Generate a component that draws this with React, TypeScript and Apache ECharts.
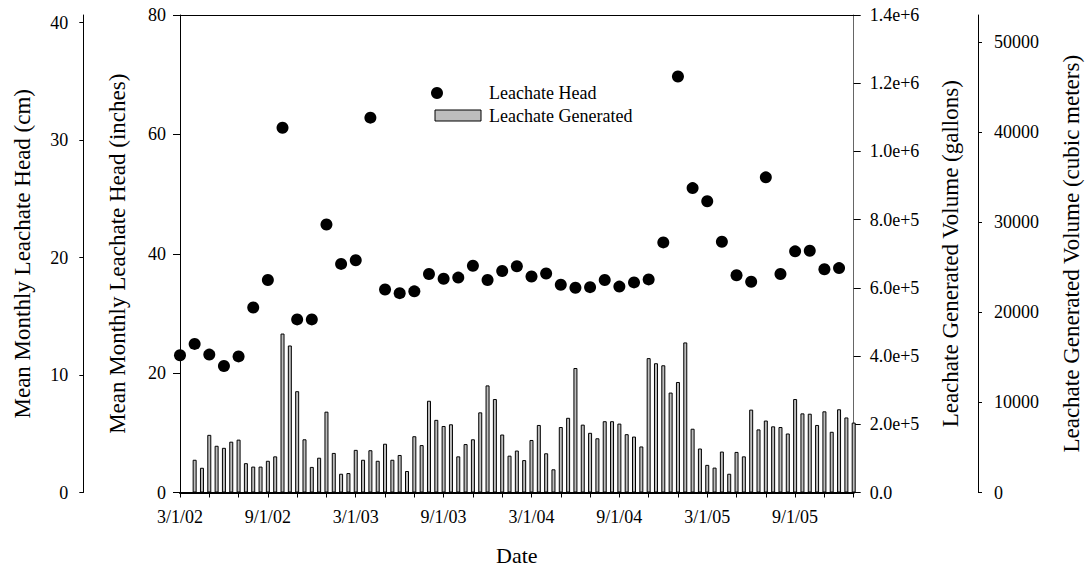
import React, { useEffect, useRef } from "react";
import * as echarts from "echarts";

// Months after 3/1/02 (0 = 3/1/02); head is monthly, generated volume semi-monthly starting 4/1/02
const headStartMonth = 0;
const headInches = [
  23.0, 24.9, 23.1, 21.2, 22.8, 31.0, 35.6, 61.1, 29.0, 29.0,
  44.9, 38.3, 38.9, 62.8, 34.0, 33.4, 33.7, 36.6, 35.8, 36.0,
  38.0, 35.6, 37.1, 37.9, 36.2, 36.7, 34.8, 34.3, 34.4, 35.6,
  34.5, 35.2, 35.7, 41.9, 69.7, 51.0, 48.8, 42.0, 36.4, 35.3,
  52.8, 36.6, 40.4, 40.5, 37.4, 37.6,
];
const genStartMonth = 1;
const genStep = 0.5;
const generatedGallons = [
  96000, 72500, 169000, 137000, 131000, 149000, 155000, 86000, 76000, 76000,
  93000, 106000, 466000, 431000, 297000, 156000, 75000, 102000, 237000, 116000,
  55000, 57000, 125000, 96000, 124000, 93000, 143000, 96000, 110000, 63000,
  165000, 139000, 269000, 213000, 195000, 200000, 106000, 142000, 156000, 235000,
  314000, 274000, 170000, 108000, 123000, 95000, 154000, 198000, 115000, 68000,
  192000, 219000, 365000, 199000, 175000, 159000, 209000, 209000, 202000, 171000,
  164000, 135000, 394000, 379000, 373000, 293000, 324000, 440000, 187000, 129000,
  81000, 73000, 120000, 55000, 119000, 106000, 243000, 185000, 211000, 194000,
  192000, 173000, 274000, 232000, 231000, 198000, 238000, 178000, 244000, 220000,
  205000,
];
const xTickMonths = [0, 2, 4, 6, 8, 10, 12, 14, 16, 18, 20, 22, 24, 26, 28, 30, 32, 34, 36, 38, 40, 42, 44, 46];
const xLabelMonths = [0, 6, 12, 18, 24, 30, 36, 42];
const cmTicks = [0, 10, 20, 30, 40];
const m3Ticks = [0, 10000, 20000, 30000, 40000, 50000];

const FONT = "'Liberation Serif', 'Times New Roman', serif";

function monthLabel(m: number): string {
  const total = 2 + Math.round(m);
  const yr = 2 + Math.floor(total / 12);
  const mo = (total % 12) + 1;
  return `${mo}/1/${yr < 10 ? "0" + yr : yr}`;
}

export default function App() {
  const ref = useRef<HTMLDivElement>(null);
  useEffect(() => {
    if (!ref.current) return;
    const chart = echarts.init(ref.current, null, { renderer: "svg" });
    const headData = headInches.map((v, i) => [headStartMonth + i, v]);
    const genData = generatedGallons.map((v, i) => [genStartMonth + i * genStep, v]);
    const lbl = { fontFamily: FONT, fontSize: 18, color: "#000" };
    const nameStyle = { fontFamily: FONT, fontSize: 23, color: "#000" };
    chart.setOption({
      animation: false,
      backgroundColor: "#fff",
      textStyle: { fontFamily: FONT },
      grid: { left: 180, right: 227, top: 15, bottom: 84.5, containLabel: false },
      xAxis: [
        {
          type: "value",
          min: 0,
          max: 46,
          position: "bottom",
          axisLine: { show: true, onZero: false, lineStyle: { color: "#000", width: 2 } },
          axisTick: { show: true, customValues: xTickMonths, length: 5, lineStyle: { color: "#000" } },
          axisLabel: { ...lbl, customValues: xLabelMonths, margin: 15, formatter: (v: number) => monthLabel(v) },
          splitLine: { show: false },
          name: "Date",
          nameLocation: "middle",
          nameGap: 52,
          nameTextStyle: { ...nameStyle, fontSize: 22 },
        },
        {
          type: "value",
          min: 0,
          max: 46,
          position: "top",
          axisLine: { show: true, onZero: false, lineStyle: { color: "#000", width: 1 } },
          axisTick: { show: false },
          axisLabel: { show: false },
          splitLine: { show: false },
        },
      ],
      yAxis: [
        {
          type: "value",
          min: 0,
          max: 80,
          interval: 20,
          position: "left",
          axisLine: { show: true, onZero: false, lineStyle: { color: "#000" } },
          axisTick: { show: true, length: 7, lineStyle: { color: "#000" } },
          axisLabel: { ...lbl, margin: 14 },
          splitLine: { show: false },
          name: "Mean Monthly Leachate Head (inches)",
          nameLocation: "middle",
          nameGap: 51,
          nameTextStyle: nameStyle,
        },
        {
          type: "value",
          min: 0,
          max: 40.64,
          position: "left",
          offset: 96.7,
          axisLine: { show: true, onZero: false, lineStyle: { color: "#000" } },
          axisTick: { show: true, length: 4, customValues: cmTicks, lineStyle: { color: "#000" } },
          axisLabel: { ...lbl, margin: 15, customValues: cmTicks },
          splitLine: { show: false },
          name: "Mean Monthly Leachate Head (cm)",
          nameLocation: "middle",
          nameGap: 49,
          nameTextStyle: nameStyle,
        },
        {
          type: "value",
          min: 0,
          max: 1400000,
          interval: 200000,
          position: "right",
          axisLine: { show: true, onZero: false, lineStyle: { color: "#666" } },
          axisTick: { show: true, length: 7, lineStyle: { color: "#000" } },
          axisLabel: {
            ...lbl,
            margin: 16,
            formatter: (v: number) => (v === 0 ? "0.0" : v.toExponential(1)),
          },
          splitLine: { show: false },
          name: "Leachate Generated Volume (gallons)",
          nameLocation: "middle",
          nameGap: 85,
          nameTextStyle: nameStyle,
        },
        {
          type: "value",
          min: 0,
          max: 53000,
          position: "right",
          offset: 124.3,
          axisLine: { show: true, onZero: false, lineStyle: { color: "#000" } },
          axisTick: { show: true, length: 4, customValues: m3Ticks, lineStyle: { color: "#000" } },
          axisLabel: { ...lbl, margin: 16, customValues: m3Ticks, formatter: (v: number) => String(Math.round(v)) },
          splitLine: { show: false },
          name: "Leachate Generated Volume (cubic meters)",
          nameLocation: "middle",
          nameGap: 82,
          nameTextStyle: nameStyle,
        },
      ],
      series: [
        {
          name: "Leachate Generated",
          type: "bar",
          xAxisIndex: 0,
          yAxisIndex: 2,
          data: genData,
          barWidth: 4,
          itemStyle: { color: "#bdbdbd", borderColor: "#000", borderWidth: 1 },
          z: 2,
        },
        {
          name: "Leachate Head",
          type: "scatter",
          xAxisIndex: 0,
          yAxisIndex: 0,
          data: headData,
          symbol: "circle",
          symbolSize: 12,
          itemStyle: { color: "#000", opacity: 1 },
          z: 3,
        },
      ],
      graphic: [
        { type: "circle", shape: { cx: 437, cy: 93, r: 6 }, style: { fill: "#000" } },
        {
          type: "text",
          x: 489,
          y: 93,
          style: { text: "Leachate Head", fill: "#000", font: `18px ${FONT}`, textVerticalAlign: "middle", verticalAlign: "middle" },
        },
        { type: "rect", shape: { x: 435, y: 110, width: 46, height: 11 }, style: { fill: "#bdbdbd", stroke: "#000", lineWidth: 1 } },
        {
          type: "text",
          x: 489,
          y: 116,
          style: { text: "Leachate Generated", fill: "#000", font: `18px ${FONT}`, textVerticalAlign: "middle", verticalAlign: "middle" },
        },
      ],
    });
    return () => chart.dispose();
  }, []);
  return (
    <div
      ref={ref}
      style={{ position: "fixed", left: 0, top: 0, width: 1091, height: 577, background: "#fff" }}
    />
  );
}
